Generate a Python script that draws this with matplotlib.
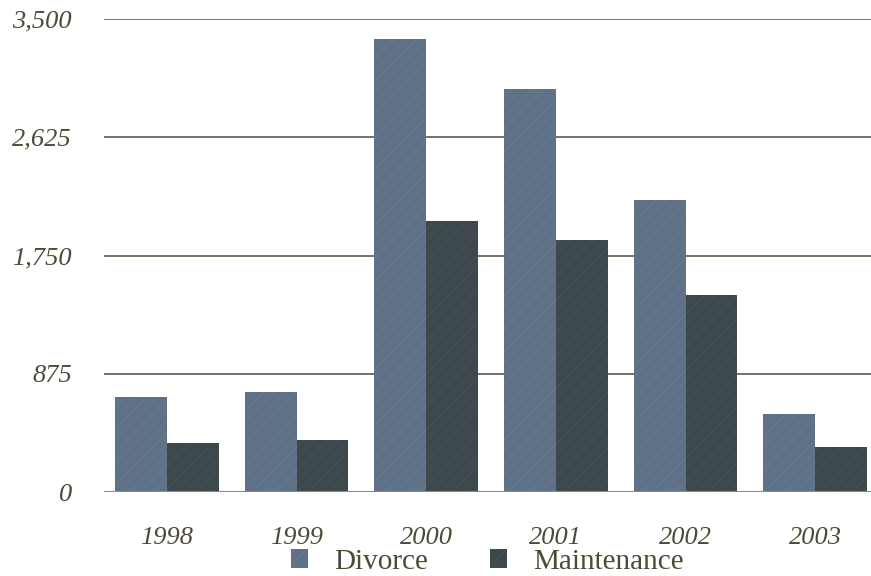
import numpy as np
import matplotlib
matplotlib.use("Agg")
import matplotlib.pyplot as plt

years = ["1998", "1999", "2000", "2001", "2002", "2003"]
divorce = [705, 740, 3350, 2980, 2160, 580]
maintenance = [365, 385, 2005, 1865, 1460, 335]
yticks = [0, 875, 1750, 2625, 3500]
ytick_labels = ["0", "875", "1,750", "2,625", "3,500"]

text_col = "#4d4a36"
plt.rcParams["font.family"] = ["Liberation Serif", "DejaVu Serif"]
plt.rcParams["hatch.linewidth"] = 1.0

fig = plt.figure(figsize=(8.71, 5.76), dpi=100)
ax = fig.add_axes([0.1194, 0.1458, 0.8806, 0.8212])

x = np.arange(len(years))
w = 0.4
ax.bar(x - w / 2, divorce, w, color="#5f7186", edgecolor="#66788d",
       hatch="///", linewidth=0, label="Divorce", zorder=3)
ax.bar(x + w / 2, maintenance, w, color="#3c484c", edgecolor="#434f53",
       hatch="///", linewidth=0, label="Maintenance", zorder=3)

ax.set_ylim(0, 3500)
ax.set_xlim(-0.485, 5.43)
ax.set_yticks(yticks)
ax.set_yticklabels(ytick_labels, fontstyle="italic", fontsize=19, color=text_col)
ax.set_xticks(x)
ax.set_xticklabels(years, fontstyle="italic", fontsize=19, color=text_col)
ax.tick_params(axis="y", length=0, pad=23)
ax.tick_params(axis="x", length=0, pad=25)

for v in yticks[1:]:
    ax.axhline(v, color="#5c5a48", linewidth=1.2, zorder=1)
ax.axhline(0, color="#8c8a7a", linewidth=2.2, zorder=4)
for s in ax.spines.values():
    s.set_visible(False)

ax.legend(loc="center", bbox_to_anchor=(0.50, -0.147), ncol=2, frameon=False,
          fontsize=21, labelcolor=text_col, handlelength=0.6, handleheight=0.6,
          columnspacing=2.1, handletextpad=0.9, borderpad=0)

fig.savefig("out.png", dpi=100)
